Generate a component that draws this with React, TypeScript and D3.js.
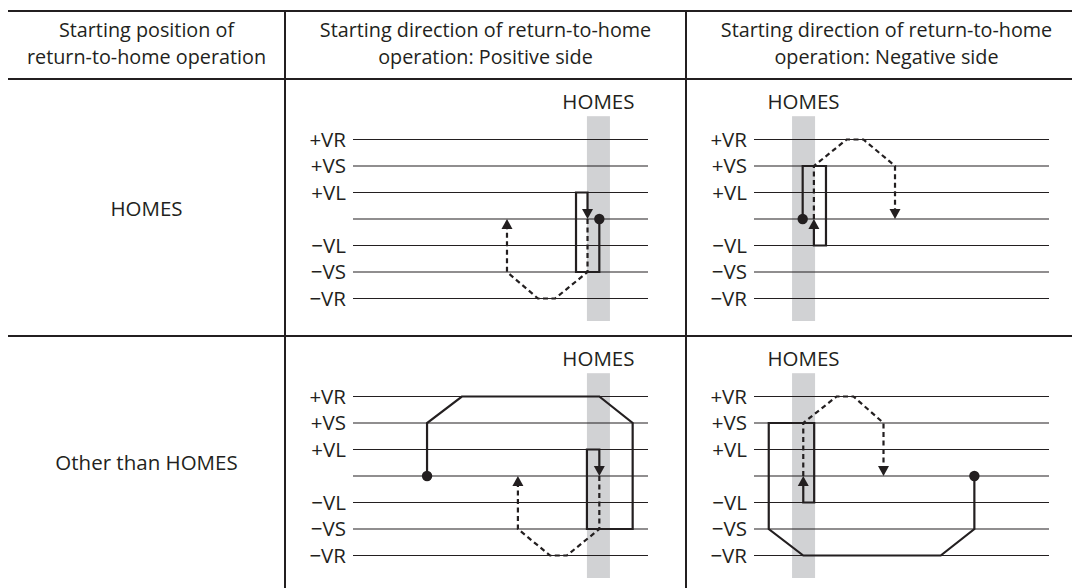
import React from "react";
import * as d3 from "d3";

// speed levels, top to bottom
const speedLevels = ["+VR", "+VS", "+VL", "0", "−VL", "−VS", "−VR"];
const speedLabels = ["+VR", "+VS", "+VL", "", "−VL", "−VS", "−VR"];

const headerLines = [
  ["Starting position of", "return-to-home operation"],
  ["Starting direction of return-to-home", "operation: Positive side"],
  ["Starting direction of return-to-home", "operation: Negative side"],
];
const rowLabels = ["HOMES", "Other than HOMES"];

// track position in % of the drawn width
const homesBandPositive: [number, number] = [79.3, 87.1];
const homesBandNegative: [number, number] = [12.9, 20.7];

type Pt = [number, string];

// row 1, positive side
const r1PosSolid: Pt[] = [[83.5, "0"], [83.5, "−VS"], [75.6, "−VS"], [75.6, "+VL"], [79.5, "+VL"], [79.5, "0"]];
const r1PosDash: Pt[] = [[79.5, "0"], [79.5, "−VS"], [68.5, "−VR"], [62.7, "−VR"], [52.2, "−VS"], [52.2, "0"]];
// row 1, negative side
const r1NegSolid: Pt[] = [[16.5, "0"], [16.5, "+VS"], [24.4, "+VS"], [24.4, "−VL"], [20.3, "−VL"], [20.3, "0"]];
const r1NegDash: Pt[] = [[20.3, "0"], [20.3, "+VS"], [31.4, "+VR"], [37.1, "+VR"], [47.8, "+VS"], [47.8, "0"]];
// row 2, positive side
const r2PosSolid: Pt[] = [[25.1, "0"], [25.1, "+VS"], [36.9, "+VR"], [83.5, "+VR"], [94.8, "+VS"], [94.8, "−VS"], [79.3, "−VS"], [79.3, "+VL"], [83.5, "+VL"], [83.5, "0"]];
const r2PosDash: Pt[] = [[83.5, "0"], [83.5, "−VS"], [72.5, "−VR"], [66.8, "−VR"], [55.9, "−VS"], [55.9, "0"]];
// row 2, negative side
const r2NegSolid: Pt[] = [[74.7, "0"], [74.7, "−VS"], [63.3, "−VR"], [16.7, "−VR"], [5.0, "−VS"], [5.0, "+VS"], [20.4, "+VS"], [20.4, "−VL"], [16.7, "−VL"], [16.7, "0"]];
const r2NegDash: Pt[] = [[16.7, "0"], [16.7, "+VS"], [28.0, "+VR"], [33.7, "+VR"], [43.9, "+VS"], [43.9, "0"]];

const panels = [
  { row: 0, col: 1, band: homesBandPositive, solid: r1PosSolid, dash: r1PosDash },
  { row: 0, col: 2, band: homesBandNegative, solid: r1NegSolid, dash: r1NegDash },
  { row: 1, col: 1, band: homesBandPositive, solid: r2PosSolid, dash: r2PosDash },
  { row: 1, col: 2, band: homesBandNegative, solid: r2NegSolid, dash: r2NegDash },
];

const width = 1072;
const height = 588;
const ink = "#231f20";
const font = "'Open Sans', sans-serif";
const fontSize = 20.5;
const headerFontSize = 19.8;

const colEdges = [8, 285, 686, 1087];
const rowEdges = [11, 79, 336, 588];

function Panel({ x0, x1, top, band, solid, dash }: any) {
  const x = d3.scaleLinear().domain([0, 100]).range([x0 + 68, x1 - 38]);
  const y = d3.scalePoint<string>().domain(speedLevels).range([top + 60.5, top + 219.5]);

  // path trimmed at the end so the arrow head sits on the last point
  const arrowOf = (pts: Pt[]) => {
    const a = pts[pts.length - 2];
    const b = pts[pts.length - 1];
    const bx = x(b[0]);
    const by = y(b[1])!;
    const dir = Math.sign(by - y(a[1])!);
    const h = 10;
    const w = 5.5;
    const trimmed = pts.slice(0, -1).map((p) => [x(p[0]), y(p[1])!] as [number, number]);
    trimmed.push([bx, by - dir * h + dir * 1]);
    return {
      path: d3.line()(trimmed),
      head: `M${bx},${by} L${bx - w},${by - dir * h} L${bx + w},${by - dir * h} Z`,
    };
  };

  const s = arrowOf(solid);
  const d = arrowOf(dash);
  const bandX0 = x(band[0]);
  const bandX1 = x(band[1]);

  return (
    <g>
      <rect
        x={bandX0}
        y={y("+VR")! - 23.3}
        width={bandX1 - bandX0}
        height={y("−VR")! - y("+VR")! + 45.8}
        fill="#d1d2d4"
      />
      <text
        x={(bandX0 + bandX1) / 2}
        y={y("+VR")! - 30.5}
        textAnchor="middle"
        fontSize={fontSize}
        fill={ink}
      >
        HOMES
      </text>
      {speedLevels.map((lv, i) => (
        <g key={lv}>
          <line x1={x(0)} x2={x(100)} y1={y(lv)} y2={y(lv)} stroke={ink} strokeWidth={1.1} />
          <text
            x={x(0) - 7}
            y={y(lv)}
            dy="0.36em"
            textAnchor="end"
            fontSize={fontSize}
            fill={ink}
          >
            {speedLabels[i]}
          </text>
        </g>
      ))}
      <path d={d.path!} fill="none" stroke={ink} strokeWidth={2.2} strokeDasharray="5 3.5" />
      <path d={d.head} fill={ink} />
      <path d={s.path!} fill="none" stroke={ink} strokeWidth={2.2} strokeLinejoin="miter" />
      <path d={s.head} fill={ink} />
      <circle cx={x(solid[0][0])} cy={y(solid[0][1])} r={5.2} fill={ink} />
    </g>
  );
}

export default function App() {
  return (
    <svg
      width={width}
      height={height}
      style={{ position: "absolute", left: 0, top: 0, background: "#fff" }}
      fontFamily={font}
    >
      {/* table rules */}
      {rowEdges.slice(0, 3).map((yy) => (
        <line key={yy} x1={colEdges[0]} x2={width + 20} y1={yy} y2={yy} stroke={ink} strokeWidth={2} />
      ))}
      {colEdges.slice(1, 3).map((xx) => (
        <line key={xx} x1={xx} x2={xx} y1={rowEdges[0]} y2={height} stroke={ink} strokeWidth={2} />
      ))}

      {/* header, two lines per column */}
      {headerLines.map((lines, c) =>
        lines.map((t, k) => (
          <text
            key={`${c}-${k}`}
            x={(colEdges[c] + colEdges[c + 1]) / 2}
            y={37 + k * 27}
            textAnchor="middle"
            fontSize={headerFontSize}
            fill={ink}
          >
            {t}
          </text>
        ))
      )}

      {/* row labels */}
      {rowLabels.map((t, r) => (
        <text
          key={t}
          x={(colEdges[0] + colEdges[1]) / 2}
          y={(rowEdges[r + 1] + rowEdges[r + 2]) / 2 + 1}
          dy="0.36em"
          textAnchor="middle"
          fontSize={fontSize}
          fill={ink}
        >
          {t}
        </text>
      ))}

      {panels.map((p, i) => (
        <Panel
          key={i}
          x0={colEdges[p.col]}
          x1={colEdges[p.col + 1]}
          top={rowEdges[p.row + 1]}
          band={p.band}
          solid={p.solid}
          dash={p.dash}
        />
      ))}
    </svg>
  );
}
